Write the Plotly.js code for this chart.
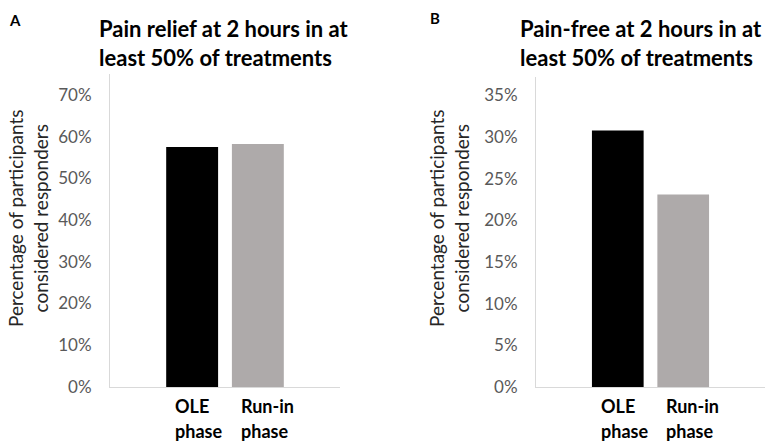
<!DOCTYPE html>
<html>
<head>
<meta charset="utf-8">
<script src="https://cdn.plot.ly/plotly-3.0.1.min.js"></script>
<style>html,body{margin:0;padding:0;background:#fff;}#chart{width:767px;height:444px;}</style>
</head>
<body>
<div id="chart"></div>
<script>
// ---- data ----
const categories = ["OLE", "Run-in"];
const barColors = ["#000000", "#AEAAAA"];
const painRelief = [0.575, 0.582];   // panel A
const painFree = [0.308, 0.231];     // panel B
const tickValsA = [0, 0.1, 0.2, 0.3, 0.4, 0.5, 0.6, 0.7];
const tickValsB = [0, 0.05, 0.1, 0.15, 0.2, 0.25, 0.3, 0.35];
const titleA = "Pain relief at 2 hours in at<br>least 50% of treatments";
const titleB = "Pain-free at 2 hours in at<br>least 50% of treatments";
const yTitle = "Percentage of participants<br>considered responders";
const tickLine1 = ["OLE", "Run-in"];
const tickLine2 = ["phase", "phase"];

const FONT = "Lato, 'Open Sans', sans-serif";
const W = 767, H = 444, MT = 74, MB = 57;
const PH = H - MT - MB;
const pyFromTop = (px) => (H - MB - px) / PH;

const traces = [
  {type: "bar", x: categories, y: painRelief, marker: {color: barColors}, xaxis: "x", yaxis: "y", hoverinfo: "none"},
  {type: "bar", x: categories, y: painFree, marker: {color: barColors}, xaxis: "x2", yaxis: "y2", hoverinfo: "none"}
];

const yax = (range, vals, dom) => ({
  range: range, tickvals: vals, tickformat: ".0%", domain: dom,
  showgrid: false, zeroline: false, showline: true, linecolor: "#d9d9d9", linewidth: 1,
  ticks: "", ticklabelstandoff: 14,
  tickfont: {family: FONT, size: 17, color: "#595959"}, fixedrange: true
});
const xax = (dom, anchor) => ({
  domain: dom, anchor: anchor, type: "category", range: [-1.25, 2.25],
  showgrid: false, zeroline: false, showline: true, linecolor: "#d9d9d9", linewidth: 1,
  showticklabels: false, ticks: "", fixedrange: true
});

const annotations = [];
// panel letters
annotations.push({text: "<b>A</b>", xref: "paper", yref: "paper", x: 15 / W, y: 1 + (MT - 20) / PH, showarrow: false, xanchor: "center", yanchor: "middle", font: {family: FONT, size: 15, color: "#000"}});
annotations.push({text: "<b>B</b>", xref: "paper", yref: "paper", x: 435 / W, y: 1 + (MT - 18) / PH, showarrow: false, xanchor: "center", yanchor: "middle", font: {family: FONT, size: 15, color: "#000"}});
// titles
[[titleA, 97], [titleB, 518]].forEach(([t, px]) => {
  annotations.push({text: "<b>" + t + "</b>", xref: "paper", yref: "paper", x: px / W, y: 1 + (MT - 43.5) / PH, showarrow: false, xanchor: "left", yanchor: "middle", align: "left", font: {family: FONT, size: 22, color: "#000"}});
});
// y titles
[28, 449].forEach(px => {
  annotations.push({text: yTitle, xref: "paper", yref: "paper", x: px / W, y: pyFromTop(219), showarrow: false, textangle: -90, xanchor: "center", yanchor: "middle", align: "center", font: {family: FONT, size: 19, color: "#262626"}});
});
// category labels
["x", "x2"].forEach(xr => {
  categories.forEach((c, i) => {
    annotations.push({text: "<b>" + tickLine1[i] + "</b>", xref: xr, yref: "paper", x: c, xshift: -19, y: pyFromTop(406), showarrow: false, xanchor: "left", yanchor: "middle", font: {family: FONT, size: 18, color: "#000"}});
    annotations.push({text: "<b>" + tickLine2[i] + "</b>", xref: xr, yref: "paper", x: c, xshift: -19, y: pyFromTop(431), showarrow: false, xanchor: "left", yanchor: "middle", font: {family: FONT, size: 18, color: "#000"}});
  });
});

const layout = {
  width: W, height: H,
  margin: {l: 0, r: 0, t: MT, b: MB},
  paper_bgcolor: "#fff", plot_bgcolor: "#fff",
  showlegend: false, bargap: 0.21,
  font: {family: FONT},
  xaxis: xax([110 / W, 340 / W], "y"),
  yaxis: yax([0, 0.75], tickValsA, [0, 1]),
  xaxis2: xax([536 / W, 765 / W], "y2"),
  yaxis2: Object.assign(yax([0, 0.372], tickValsB, [0, 0.99]), {anchor: "x2"}),
  annotations: annotations
};
layout.yaxis.anchor = "x";

Plotly.newPlot("chart", traces, layout, {displayModeBar: false, staticPlot: true});
</script>
</body>
</html>
